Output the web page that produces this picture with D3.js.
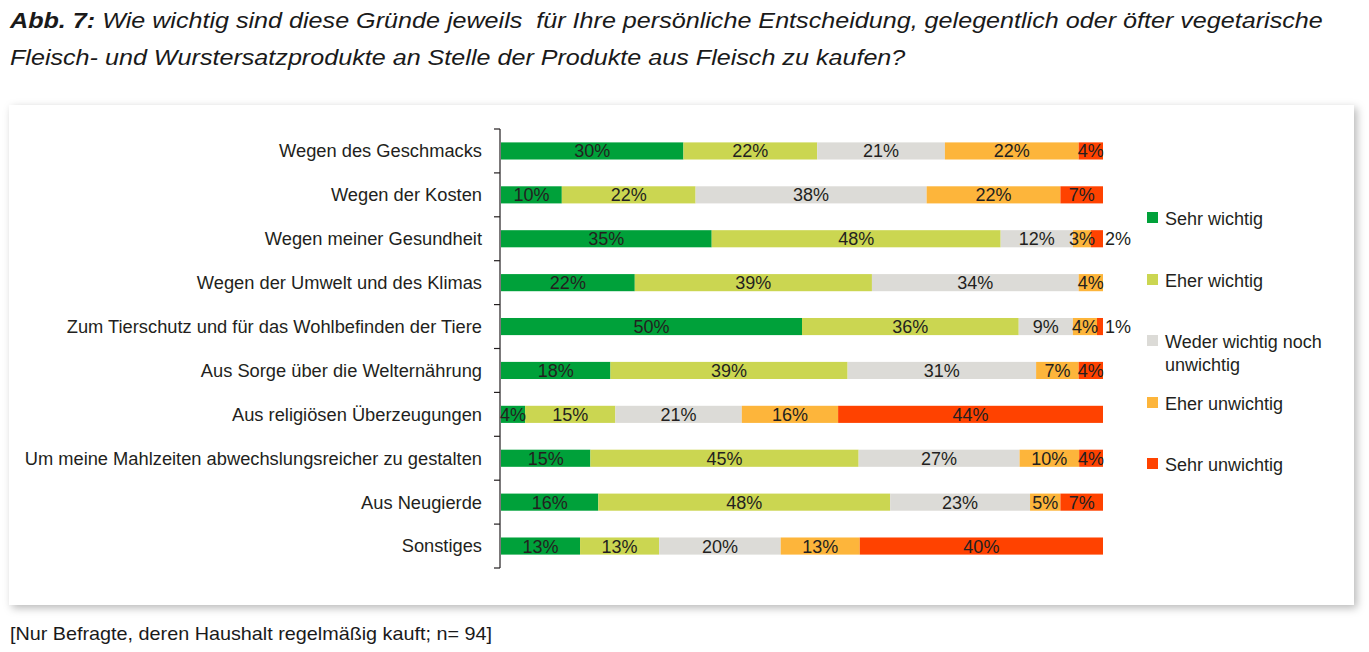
<!DOCTYPE html>
<html>
<head>
<meta charset="utf-8">
<script src="https://cdn.jsdelivr.net/npm/d3@7"></script>
<style>
  html, body { margin: 0; padding: 0; background: #ffffff; }
  svg { display: block; font-family: "Liberation Sans", Arial, sans-serif; }
  .pre { white-space: pre; }
</style>
</head>
<body>
<svg id="chart" width="1369" height="652"></svg>
<script>
const categories = [
  "Wegen des Geschmacks",
  "Wegen der Kosten",
  "Wegen meiner Gesundheit",
  "Wegen der Umwelt und des Klimas",
  "Zum Tierschutz und für das Wohlbefinden der Tiere",
  "Aus Sorge über die Welternährung",
  "Aus religiösen Überzeugungen",
  "Um meine Mahlzeiten abwechslungsreicher zu gestalten",
  "Aus Neugierde",
  "Sonstiges"
];
const seriesNames = ["Sehr wichtig", "Eher wichtig", "Weder wichtig noch unwichtig", "Eher unwichtig", "Sehr unwichtig"];
const sehrWichtig    = [30, 10, 35, 22, 50, 18,  4, 15, 16, 13];
const eherWichtig    = [22, 22, 48, 39, 36, 39, 15, 45, 48, 13];
const weder          = [21, 38, 12, 34,  9, 31, 21, 27, 23, 20];
const eherUnwichtig  = [22, 22,  3,  4,  4,  7, 16, 10,  5, 13];
const sehrUnwichtig  = [ 4,  7,  2,  0,  1,  4, 44,  4,  7, 40];
const colors = ["#00a13a", "#cbd651", "#dcdbd7", "#fdb53b", "#ff4200"];
const titleBold = "Abb. 7:";
const titleLine1 = " Wie wichtig sind diese Gründe jeweils  für Ihre persönliche Entscheidung, gelegentlich oder öfter vegetarische";
const titleLine2 = "Fleisch- und Wurstersatzprodukte an Stelle der Produkte aus Fleisch zu kaufen?";
const footnote = "[Nur Befragte, deren Haushalt regelmäßig kauft; n= 94]";

const series = [sehrWichtig, eherWichtig, weder, eherUnwichtig, sehrUnwichtig];
const rows = categories.map((c, i) => {
  const vals = series.map(s => s[i]);
  const total = d3.sum(vals);
  let cum = 0;
  const segs = vals.map((v, k) => {
    const s = { cat: c, k, v, x0: cum / total * 100, x1: (cum + v) / total * 100 };
    cum += v;
    return s;
  });
  return { cat: c, segs };
});

const svg = d3.select("#chart");
const defs = svg.append("defs");
const f = defs.append("filter").attr("id", "shadow").attr("x", "-5%").attr("y", "-5%").attr("width", "110%").attr("height", "115%");
f.append("feDropShadow").attr("dx", 3).attr("dy", 3).attr("stdDeviation", 4).attr("flood-color", "#000").attr("flood-opacity", 0.28);

// Title (horizontally stretched to match the wider original face)
const tg = svg.append("g").attr("transform", "translate(10,0) scale(1.143,1)");
const t1 = tg.append("text").attr("class", "pre").attr("x", 0).attr("y", 28).attr("font-size", 22).attr("font-style", "italic").attr("fill", "#1a1a1a");
t1.append("tspan").attr("font-weight", "bold").text(titleBold);
t1.append("tspan").text(titleLine1);
tg.append("text").attr("x", 0).attr("y", 65).attr("font-size", 22).attr("font-style", "italic").attr("fill", "#1a1a1a").text(titleLine2);

// Panel
svg.append("rect").attr("x", 9).attr("y", 105).attr("width", 1345).attr("height", 500).attr("fill", "#fff").attr("filter", "url(#shadow)");

// Scales
const x = d3.scaleLinear().domain([0, 100]).range([501, 1103]);
const y = d3.scaleBand().domain(categories).range([129, 568]).paddingInner(0.61).paddingOuter(0.305);

// Axis
const axisG = svg.append("g").attr("transform", "translate(500,0)");
axisG.append("line").attr("x1", 0).attr("x2", 0).attr("y1", 129).attr("y2", 568).attr("stroke", "#231f20").attr("stroke-width", 1.2);
const bands = d3.range(categories.length + 1).map(i => 129 + i * (568 - 129) / categories.length);
axisG.selectAll("line.tick").data(bands).join("line").attr("class", "tick")
  .attr("x1", -6).attr("x2", 0).attr("y1", d => d).attr("y2", d => d)
  .attr("stroke", "#231f20").attr("stroke-width", 1.2);

// Category labels
svg.append("g").selectAll("text").data(categories).join("text")
  .attr("x", 482).attr("y", d => y(d) + y.bandwidth() / 2)
  .attr("dy", "0.35em").attr("text-anchor", "end").attr("font-size", 18.3).attr("fill", "#231f20")
  .text(d => d);

// Bars
const rowG = svg.append("g").selectAll("g").data(rows).join("g");
rowG.selectAll("rect").data(d => d.segs.filter(s => s.v > 0)).join("rect")
  .attr("x", d => x(d.x0)).attr("width", d => x(d.x1) - x(d.x0))
  .attr("y", d => y(d.cat)).attr("height", y.bandwidth())
  .attr("fill", d => colors[d.k]);

// Value labels
rowG.selectAll("text").data(d => d.segs.filter(s => s.v > 0)).join("text")
  .attr("x", d => (d.k === 4 && d.v <= 2) ? x(d.x1) + 2 : (x(d.x0) + x(d.x1)) / 2)
  .attr("text-anchor", d => (d.k === 4 && d.v <= 2) ? "start" : "middle")
  .attr("y", d => y(d.cat) + y.bandwidth() / 2)
  .attr("dy", "0.36em").attr("font-size", 18).attr("fill", "#231f20")
  .text(d => d.v + "%");

// Legend
const legendY = [219, 281, 342, 404, 465];
const lg = svg.append("g").selectAll("g").data(seriesNames).join("g")
  .attr("transform", (d, i) => `translate(1147,${legendY[i]})`);
lg.append("rect").attr("x", 0).attr("y", -7).attr("width", 11).attr("height", 11).attr("fill", (d, i) => colors[i]);
lg.append("text").attr("x", 18).attr("y", 0).attr("dy", "0.35em").attr("font-size", 18).attr("fill", "#231f20")
  .each(function(d) {
    const el = d3.select(this);
    if (d === "Weder wichtig noch unwichtig") {
      el.append("tspan").attr("x", 18).text("Weder wichtig noch");
      el.append("tspan").attr("x", 18).attr("dy", 23).text("unwichtig");
    } else {
      el.text(d);
    }
  });

// Footnote
svg.append("text").attr("x", 10).attr("y", 640).attr("font-size", 18.5)
  .attr("textLength", 482).attr("lengthAdjust", "spacingAndGlyphs")
  .attr("fill", "#1a1a1a").text(footnote);
</script>
</body>
</html>
